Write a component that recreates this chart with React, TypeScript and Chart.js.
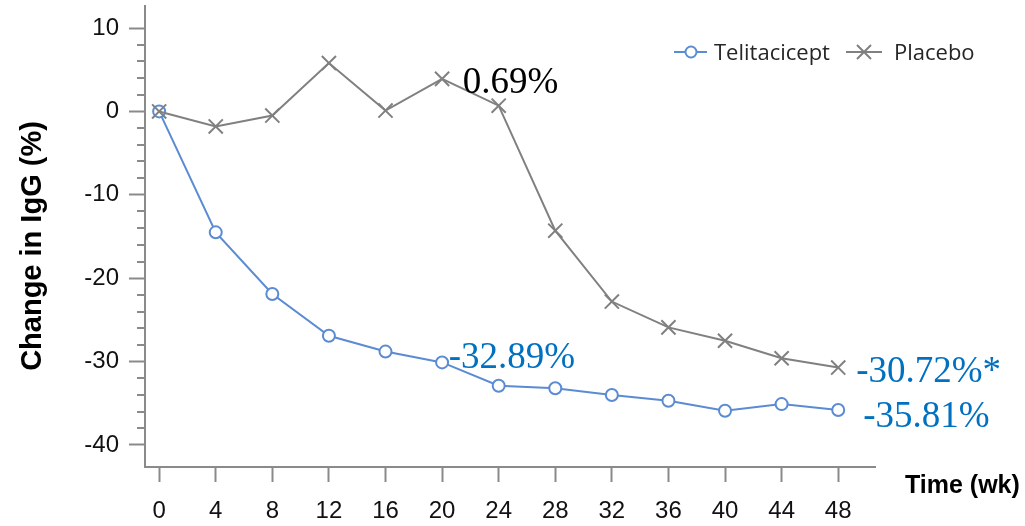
import React, { useEffect, useRef } from "react";
import { Chart, registerables } from "chart.js";

Chart.register(...registerables);

const weeks = [0, 4, 8, 12, 16, 20, 24, 28, 32, 36, 40, 44, 48];
const telitacicept = [0, -14.5, -21.9, -26.9, -28.8, -30.1, -32.89, -33.2, -34.0, -34.7, -35.9, -35.1, -35.81];
const placebo = [0, -1.8, -0.5, 5.8, 0.1, 3.9, 0.69, -14.3, -22.8, -25.9, -27.5, -29.6, -30.72];
const xTicks = [0, 4, 8, 12, 16, 20, 24, 28, 32, 36, 40, 44, 48];
const yMajorTicks = [-40, -30, -20, -10, 0, 10];
const yMinorTicks = [-38, -36, -34, -32, -28, -26, -24, -22, -18, -16, -14, -12, -8, -6, -4, -2, 2, 4, 6, 8];
const seriesNames = ["Telitacicept", "Placebo"];
const yTitle = "Change in IgG (%)";
const xTitle = "Time (wk)";
const annotationTexts = ["0.69%", "-32.89%", "-30.72%*", "-35.81%"];

const BLUE = "#5b8bd3";
const GRAY = "#808080";
const NOTE_BLUE = "#0070c0";
const AXIS = "#8a8a8a";

const overlayPlugin = {
  id: "overlay",
  afterDraw(chart: any) {
    const ctx = chart.ctx;
    const x = chart.scales.x;
    const y = chart.scales.y;
    ctx.save();

    // minor y ticks
    ctx.strokeStyle = AXIS;
    ctx.lineWidth = 2;
    const axisX = chart.chartArea.left;
    for (const v of yMinorTicks) {
      const py = Math.round(y.getPixelForValue(v));
      ctx.beginPath();
      ctx.moveTo(axisX - 8, py);
      ctx.lineTo(axisX, py);
      ctx.stroke();
    }

    // y title
    ctx.save();
    ctx.translate(41, 246);
    ctx.rotate(-Math.PI / 2);
    ctx.font = "bold 29px 'Liberation Sans', Arial, sans-serif";
    ctx.fillStyle = "#000";
    ctx.textAlign = "center";
    ctx.textBaseline = "alphabetic";
    ctx.fillText(yTitle, 0, 0);
    ctx.restore();

    // x title
    ctx.font = "bold 25px 'Liberation Sans', Arial, sans-serif";
    ctx.fillStyle = "#000";
    ctx.textAlign = "left";
    ctx.textBaseline = "alphabetic";
    ctx.fillText(xTitle, 905, 493);

    // annotations anchored to data points
    const notes = [
      { wx: weeks[6], wy: placebo[6], text: annotationTexts[0], color: "#000", dx: -36, dy: -13 },
      { wx: weeks[6], wy: telitacicept[6], text: annotationTexts[1], color: NOTE_BLUE, dx: -50, dy: -18 },
      { wx: weeks[12], wy: placebo[12], text: annotationTexts[2], color: NOTE_BLUE, dx: 18, dy: 14 },
      { wx: weeks[12], wy: telitacicept[12], text: annotationTexts[3], color: NOTE_BLUE, dx: 25, dy: 17 },
    ];
    ctx.font = "37px 'Liberation Serif', 'Times New Roman', serif";
    for (const n of notes) {
      ctx.fillStyle = n.color;
      ctx.fillText(n.text, x.getPixelForValue(n.wx) + n.dx, y.getPixelForValue(n.wy) + n.dy);
    }

    // legend
    const ly = 52;
    ctx.lineWidth = 2;
    ctx.strokeStyle = BLUE;
    ctx.beginPath();
    ctx.moveTo(674, ly);
    ctx.lineTo(707, ly);
    ctx.stroke();
    ctx.beginPath();
    ctx.arc(691, ly, 5.5, 0, Math.PI * 2);
    ctx.fillStyle = "#fff";
    ctx.fill();
    ctx.stroke();
    ctx.strokeStyle = GRAY;
    ctx.beginPath();
    ctx.moveTo(846, ly);
    ctx.lineTo(882, ly);
    ctx.stroke();
    ctx.beginPath();
    ctx.moveTo(864 - 7, ly - 7);
    ctx.lineTo(864 + 7, ly + 7);
    ctx.moveTo(864 - 7, ly + 7);
    ctx.lineTo(864 + 7, ly - 7);
    ctx.stroke();
    ctx.font = "22px 'Open Sans', sans-serif";
    ctx.fillStyle = "#262626";
    ctx.fillText(seriesNames[0], 714, 60);
    ctx.fillText(seriesNames[1], 894, 60);

    ctx.restore();
  },
};

export default function App() {
  const ref = useRef<HTMLCanvasElement | null>(null);

  useEffect(() => {
    if (!ref.current) return;
    const chart = new Chart(ref.current, {
      type: "line",
      data: {
        datasets: [
          {
            label: seriesNames[0],
            data: weeks.map((w, i) => ({ x: w, y: telitacicept[i] })),
            borderColor: BLUE,
            backgroundColor: "#ffffff",
            borderWidth: 2,
            pointStyle: "circle",
            pointRadius: 6,
            pointBorderWidth: 2,
            pointBackgroundColor: "#ffffff",
            pointBorderColor: BLUE,
            tension: 0,
            order: 2,
          },
          {
            label: seriesNames[1],
            data: weeks.map((w, i) => ({ x: w, y: placebo[i] })),
            borderColor: GRAY,
            backgroundColor: GRAY,
            borderWidth: 2,
            pointStyle: "crossRot",
            pointRadius: 10,
            pointBorderWidth: 2,
            pointBorderColor: GRAY,
            tension: 0,
            order: 1,
          },
        ],
      },
      options: {
        responsive: false,
        animation: false,
        devicePixelRatio: 1,
        layout: { autoPadding: false, padding: { top: 6, right: 150, left: 0, bottom: 0 } },
        plugins: {
          legend: { display: false },
          tooltip: { enabled: false },
        },
        scales: {
          x: {
            type: "linear",
            min: -1,
            max: 50.6,
            afterBuildTicks: (s: any) => {
              s.ticks = xTicks.map((v) => ({ value: v }));
            },
            afterFit: (s: any) => {
              s.height = 59;
              s.paddingLeft = 0;
              s.paddingRight = 0;
            },
            grid: {
              drawOnChartArea: false,
              drawTicks: true,
              tickLength: 15,
              tickColor: AXIS,
              tickWidth: 2,
            },
            border: { display: true, color: AXIS, width: 2 },
            ticks: {
              autoSkip: false,
              maxRotation: 0,
              padding: 15,
              color: "#111",
              font: { family: "'Liberation Sans', Arial, sans-serif", size: 24 },
            },
          },
          y: {
            type: "linear",
            min: -42.64,
            max: 12.64,
            afterBuildTicks: (s: any) => {
              s.ticks = yMajorTicks.map((v) => ({ value: v }));
            },
            afterFit: (s: any) => {
              s.width = 145;
              s.paddingTop = 0;
              s.paddingBottom = 0;
            },
            grid: {
              drawOnChartArea: false,
              drawTicks: true,
              tickLength: 16,
              tickColor: AXIS,
              tickWidth: 2,
            },
            border: { display: true, color: AXIS, width: 2 },
            ticks: {
              padding: 10,
              color: "#111",
              font: { family: "'Liberation Sans', Arial, sans-serif", size: 24 },
            },
          },
        },
      },
      plugins: [overlayPlugin],
    });
    return () => chart.destroy();
  }, []);

  return (
    <div style={{ position: "fixed", left: 0, top: 0, width: 1025, height: 526, background: "#fff" }}>
      <canvas ref={ref} width={1025} height={526} style={{ display: "block" }} />
    </div>
  );
}
